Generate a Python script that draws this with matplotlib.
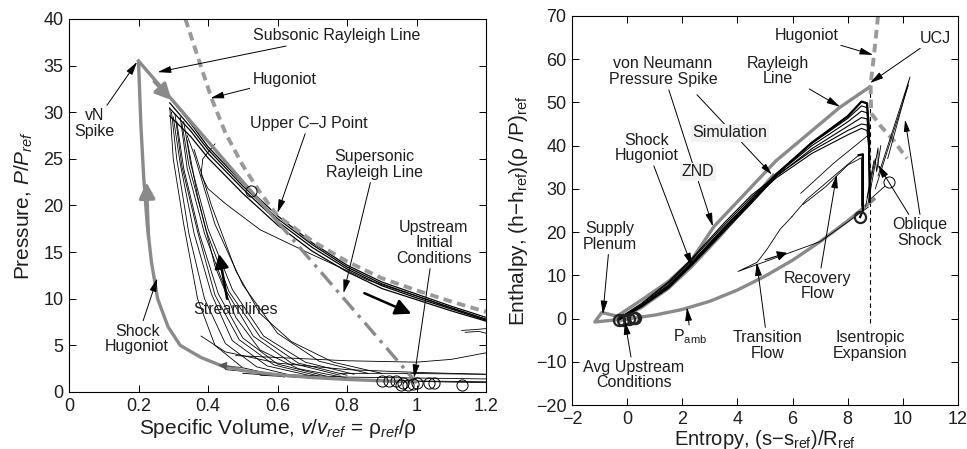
import matplotlib
matplotlib.use("Agg")
import matplotlib.pyplot as plt

plt.rcParams['font.family'] = ['Liberation Sans', 'DejaVu Sans']
plt.rcParams['mathtext.fontset'] = 'custom'
plt.rcParams['mathtext.rm'] = 'Liberation Sans'
plt.rcParams['mathtext.it'] = 'Liberation Sans:italic'
plt.rcParams['mathtext.bf'] = 'Liberation Sans:bold'

TXT = '#1e1e1e'
GRAY = '#8a8a8a'

# ===== P-v plane data =====
shock_hug_v = [1.0, 0.9, 0.8, 0.7, 0.6, 0.5, 0.44, 0.38, 0.32, 0.285, 0.255, 0.237, 0.225, 0.215, 0.207, 0.2]
shock_hug_p = [1.1, 1.2, 1.35, 1.55, 1.85, 2.3, 2.8, 3.7, 5.0, 7.0, 10.0, 14.0, 18.0, 23.0, 28.5, 35.5]

vn_point = (0.2, 35.5)
cj_point = (0.6, 18.25)
upstream_point = (1.0, 1.0)

det_hug_v = [0.335, 0.37, 0.41, 0.45, 0.5, 0.55, 0.6, 0.7, 0.8, 0.9, 1.0, 1.1, 1.2]
det_hug_p = [40.0, 36.0, 31.5, 27.8, 24.3, 21.4, 18.9, 16.2, 14.0, 12.2, 10.9, 9.7, 8.6]

# streamline bundle along the Hugoniot
band_v = [0.29, 0.35, 0.4, 0.5, 0.6, 0.7, 0.8, 0.9, 1.0, 1.1, 1.2]
band_p = [
    [31.6, 28.8, 26.3, 22.4, 18.9, 16.0, 13.6, 11.8, 10.5, 9.2, 8.0],
    [31.0, 28.4, 26.0, 22.1, 18.6, 15.8, 13.4, 11.6, 10.3, 9.0, 7.8],
    [30.4, 28.0, 25.6, 21.8, 18.3, 15.5, 13.2, 11.4, 10.1, 8.9, 7.7],
    [29.6, 27.4, 25.1, 21.3, 17.9, 15.1, 12.9, 11.1, 9.9, 8.7, 7.6],
]

# compression legs of the streamlines
wedge_v = [
    [0.62, 0.5, 0.42, 0.37, 0.33, 0.30, 0.29],
    [0.66, 0.54, 0.45, 0.39, 0.345, 0.31, 0.295],
    [0.7, 0.57, 0.47, 0.41, 0.36, 0.32, 0.30],
    [0.72, 0.59, 0.49, 0.42, 0.37, 0.325, 0.305],
    [0.74, 0.6, 0.5, 0.43, 0.375, 0.33, 0.31],
    [0.78, 0.64, 0.53, 0.45, 0.39, 0.34, 0.32],
    [0.8, 0.66, 0.55, 0.46, 0.395, 0.345, 0.325],
    [0.82, 0.68, 0.56, 0.47, 0.40, 0.35, 0.33],
    [0.86, 0.72, 0.6, 0.5, 0.42, 0.36, 0.34],
    [0.8, 0.66, 0.55, 0.48, 0.42, 0.37, 0.34],
    [0.9, 0.76, 0.64, 0.55, 0.48, 0.41, 0.36],
]
wedge_p = [
    [1.6, 2.6, 5.0, 10.0, 18.0, 25.0, 30.5],
    [1.6, 2.7, 5.2, 10.0, 17.0, 25.0, 30.0],
    [1.7, 2.8, 5.5, 10.5, 17.0, 24.5, 29.5],
    [1.7, 2.9, 5.6, 10.4, 17.2, 24.2, 29.8],
    [1.7, 3.0, 5.8, 10.5, 17.0, 24.0, 29.0],
    [1.8, 3.1, 6.0, 11.0, 17.0, 24.0, 29.5],
    [1.8, 3.1, 5.9, 10.8, 17.3, 24.3, 28.8],
    [1.9, 3.2, 6.0, 11.0, 17.5, 24.5, 29.0],
    [2.0, 3.3, 6.3, 11.5, 18.0, 25.5, 27.5],
    [1.5, 2.5, 4.5, 8.0, 13.5, 21.0, 27.0],
    [2.0, 3.2, 5.4, 8.4, 13.0, 20.0, 26.0],
]

# low pressure legs
low_v = [
    [0.38, 0.45, 0.6, 0.8, 1.0, 1.2],
    [0.48, 0.6, 0.8, 1.0, 1.1, 1.2],
    [0.45, 0.6, 0.8, 1.0, 1.2],
    [0.5, 0.7, 0.9, 1.05, 1.2],
    [0.55, 0.75, 0.95, 1.2],
    [0.78, 0.95, 1.2],
    [1.13, 1.17, 1.2],
    [1.14, 1.18, 1.2],
]
low_p = [
    [6.0, 4.3, 3.1, 2.4, 2.1, 1.9],
    [3.9, 3.7, 3.35, 3.2, 3.5, 4.2],
    [2.4, 1.9, 1.6, 1.5, 1.4],
    [2.0, 1.5, 1.25, 1.1, 1.0],
    [1.8, 1.4, 1.2, 1.1],
    [2.0, 2.0, 1.9],
    [6.6, 6.7, 6.8],
    [6.4, 6.5, 6.3],
]

# streamline that drops below the bundle
stray_v = [0.42, 0.385, 0.38, 0.40, 0.45, 0.55, 0.69, 0.86, 1.0, 1.2]
stray_p = [26.6, 25.0, 23.3, 21.8, 20.2, 17.4, 14.9, 12.0, 10.3, 7.8]

# inflow probe points
probe_v = [0.9, 0.92, 0.94, 0.955, 0.96, 0.975, 0.99, 1.0, 1.035, 1.05, 1.13, 0.525]
probe_p = [1.2, 1.2, 1.2, 0.8, 1.0, 0.8, 0.9, 1.0, 1.0, 1.0, 0.7, 21.6]

# ===== h-s plane data =====
pamb_s = [-0.3, 0.0, 1.0, 2.0, 3.0, 4.0, 5.0, 6.0, 7.0, 8.0, 8.95]
pamb_h = [-0.6, -0.1, 0.8, 2.1, 4.0, 6.6, 9.8, 13.5, 17.8, 22.6, 27.6]

plenum_s = [-0.4, -1.17, -0.92, -0.4]
plenum_h = [-0.3, -0.8, 1.4, 0.6]

znd_s = [-0.4, 0.5, 1.5, 2.3, 3.15, 5.4, 7.7, 8.8]
znd_h = [0.4, 4.2, 8.6, 13.2, 21.3, 36.5, 48.8, 53.6]

hs_shock_s = [-0.3, 0.5, 1.5, 2.35, 3.3, 4.3, 5.3]
hs_shock_h = [-0.1, 2.5, 7.0, 12.1, 18.6, 25.8, 33.2]

hs_hug_s = [9.1, 8.97, 8.83, 8.85, 9.2, 9.64, 10.15]
hs_hug_h = [70.0, 62.0, 54.0, 47.5, 44.5, 41.4, 37.0]

sim_s = [-0.3, 0.5, 1.5, 2.3, 3.5, 4.5, 5.4, 6.7, 8.0, 8.5, 8.7, 8.77, 8.8]
sim_h = [
    [-0.2, 2.8, 7.4, 12.3, 20.5, 27.0, 33.3, 40.7, 46.8, 50.2, 49.8, 44.0, 27.0],
    [-0.1, 3.0, 7.8, 12.8, 21.0, 27.5, 33.5, 40.5, 46.3, 49.2, 48.8, 43.0, 28.0],
    [0.0, 3.2, 8.2, 13.3, 21.5, 28.0, 33.2, 40.0, 45.5, 48.0, 47.6, 42.0, 29.0],
    [-0.3, 2.6, 7.0, 12.0, 20.0, 26.6, 32.8, 39.3, 44.5, 46.5, 46.2, 41.0, 30.0],
    [0.1, 3.4, 8.5, 13.6, 22.0, 28.5, 33.0, 38.8, 43.5, 45.0, 44.8, 40.0, 31.0],
    [-0.2, 2.9, 7.6, 12.5, 20.8, 27.3, 32.5, 38.2, 42.5, 44.0, 43.5, 39.0, 32.0],
]

# transition / recovery / expansion traces
trace_s = [
    [8.75, 7.97, 7.0, 5.54, 4.02, 4.71, 5.07, 5.54, 5.98],
    [5.98, 6.5, 7.6, 8.4, 8.55, 8.55, 8.45],
    [6.38, 7.2, 8.0, 8.5, 8.5],
    [6.3, 7.5, 8.7],
    [8.65, 9.0, 9.05, 9.2],
    [8.75, 9.1, 9.1],
    [8.7, 8.95],
    [8.8, 9.5],
    [9.1, 10.26, 9.45],
    [9.0, 10.2],
]
trace_h = [
    [25.8, 22.2, 17.8, 14.4, 10.9, 13.0, 16.0, 20.6, 23.6],
    [23.6, 27.5, 33.5, 37.8, 38.0, 25.0, 23.5],
    [26.4, 30.5, 35.5, 37.2, 26.0],
    [29.0, 36.0, 42.2],
    [26.0, 37.0, 34.0, 40.0],
    [27.0, 39.5, 35.0],
    [28.0, 36.5],
    [27.5, 31.5],
    [33.0, 55.9, 37.0],
    [30.0, 54.0],
]

avg_s = [-0.3, -0.15, 0.05, 0.2, 0.3, 8.45]
avg_h = [-0.4, -0.3, 0.0, 0.2, 0.1, 23.6]
oblique_pt = (9.5, 31.5)

isen_s = 8.8
isen_h = [-1.0, 53.6]


def arrow(ax, text, xytext, xy, **kw):
    ax.annotate(text, xy=xy, xytext=xytext, fontsize=11.5, color=TXT,
                ha='center', va='center', linespacing=1.05,
                arrowprops=dict(arrowstyle='-|>,head_length=0.7,head_width=0.18',
                                color='k', lw=0.7, shrinkA=0, shrinkB=0), **kw)


def flow_arrow(ax, start, end, color, lw, size):
    ax.annotate('', xy=end, xytext=start,
                arrowprops=dict(arrowstyle='-|>,head_length=0.6,head_width=0.3',
                                color=color, lw=lw, mutation_scale=size,
                                shrinkA=0, shrinkB=0))


def style_axes(ax):
    ax.tick_params(direction='in', top=True, right=True, length=5, width=0.7,
                   labelsize=13, colors='k', labelcolor=TXT, pad=4)
    for sp in ax.spines.values():
        sp.set_linewidth(0.8)


fig = plt.figure(figsize=(9.67, 4.49), dpi=100)

# ===== left: pressure vs specific volume =====
ax1 = fig.add_axes([69 / 967, 57 / 449, 417 / 967, 373 / 449])

for pp in band_p:
    ax1.plot(band_v, pp, color='k', lw=0.9)
for vv, pp in zip(wedge_v, wedge_p):
    ax1.plot(vv, pp, color='k', lw=0.6)
for vv, pp in zip(low_v, low_p):
    ax1.plot(vv, pp, color='k', lw=0.6)
ax1.plot(stray_v, stray_p, color='k', lw=0.6)

ax1.plot(shock_hug_v, shock_hug_p, color=GRAY, lw=2.4, solid_capstyle='round')
ax1.plot([vn_point[0], cj_point[0]], [vn_point[1], cj_point[1]], color=GRAY, lw=2.4)
ax1.plot([cj_point[0], upstream_point[0]], [cj_point[1], upstream_point[1]],
         color=GRAY, lw=2.4, ls=(0, (5, 2, 1, 2)))
ax1.plot(det_hug_v, det_hug_p, color='#9a9a9a', lw=2.8, ls=(0, (2.2, 1.4)))

ax1.plot(probe_v[:-1], probe_p[:-1], 'o', mfc='none', mec='k', ms=8, mew=0.7)
ax1.plot(probe_v[-1:], probe_p[-1:], 'o', mfc='none', mec='k', ms=8, mew=0.7)

flow_arrow(ax1, (0.229, 16.5), (0.223, 22.5), GRAY, 2.4, 16)
flow_arrow(ax1, (0.245, 33.3), (0.295, 31.3), GRAY, 2.4, 16)
flow_arrow(ax1, (0.85, 10.6), (0.985, 8.4), 'k', 1.8, 16)
flow_arrow(ax1, (0.455, 10.0), (0.432, 14.8), 'k', 1.8, 14)
flow_arrow(ax1, (0.5, 2.6), (0.43, 2.9), '#555555', 0.8, 8)

arrow(ax1, 'Subsonic Rayleigh Line', (0.77, 38.2), (0.255, 34.3))
arrow(ax1, 'Hugoniot', (0.62, 33.5), (0.407, 31.5))
arrow(ax1, 'vN\nSpike', (0.073, 28.8), (0.196, 35.4))
arrow(ax1, 'Upper C\u2013J Point', (0.69, 28.8), (0.6, 19.2))
arrow(ax1, 'Supersonic\nRayleigh Line', (0.88, 24.4), (0.79, 10.6))
arrow(ax1, 'Upstream\nInitial\nConditions', (1.05, 16.0), (0.993, 1.5))
arrow(ax1, 'Shock\nHugoniot', (0.196, 5.7), (0.254, 12.2))
ax1.text(0.48, 8.9, 'Streamlines', fontsize=11.5, color=TXT, ha='center', va='center')

ax1.set_xlim(0, 1.2)
ax1.set_ylim(0, 40)
ax1.set_xticks([0, 0.2, 0.4, 0.6, 0.8, 1.0, 1.2])
ax1.set_xticklabels(['0', '0.2', '0.4', '0.6', '0.8', '1', '1.2'])
ax1.set_yticks(range(0, 41, 5))
ax1.set_xlabel('Specific Volume, $v/v_{ref}$ = \u03c1$_{ref}$/\u03c1', fontsize=15, color=TXT, labelpad=2)
ax1.set_ylabel('Pressure, $P/P_{ref}$', fontsize=15, color=TXT, labelpad=6)
style_axes(ax1)

# ===== right: enthalpy vs entropy =====
ax2 = fig.add_axes([572 / 967, 44 / 449, 386 / 967, 389 / 449])

ax2.plot([isen_s, isen_s], isen_h, color='k', lw=0.8, ls=(0, (4, 3)))
ax2.plot(pamb_s, pamb_h, color=GRAY, lw=2.4)
ax2.plot(plenum_s, plenum_h, color=GRAY, lw=2.4)
ax2.plot(znd_s, znd_h, color=GRAY, lw=2.4)
ax2.plot(hs_shock_s, hs_shock_h, color=GRAY, lw=2.4)
ax2.plot(hs_hug_s, hs_hug_h, color='#9a9a9a', lw=2.8, ls=(0, (2.2, 1.4)))
for hh in sim_h:
    ax2.plot(sim_s, hh, color='k', lw=0.8)
ax2.plot(sim_s, sim_h[0], color='k', lw=1.6)
for ss, hh in zip(trace_s, trace_h):
    ax2.plot(ss, hh, color='k', lw=0.6)
ax2.plot(trace_s[1][3:], trace_h[1][3:], color='k', lw=1.6)
ax2.plot(avg_s, avg_h, 'o', mfc='none', mec='#222222', ms=8, mew=1.6)
ax2.plot([oblique_pt[0]], [oblique_pt[1]], 'o', mfc='white', mec='k', ms=8, mew=0.7)
flow_arrow(ax2, (5.0, 13.6), (5.8, 15.2), 'k', 0.8, 10)

arrow(ax2, 'von Neumann\nPressure Spike', (1.30, 57.1), (3.11, 21.3))
ax2.annotate('', xy=(5.25, 33.3), xytext=(2.53, 51.8),
             arrowprops=dict(arrowstyle='-|>,head_length=0.7,head_width=0.18',
                             color='k', lw=0.7, shrinkA=0, shrinkB=0))
ax2.text(2.57, 34.0, 'ZND', fontsize=11.5, color=TXT, ha='center', va='center',
         bbox=dict(boxstyle='square,pad=0.1', fc='#f2f2f2', ec='none'))
ax2.text(3.73, 43.0, 'Simulation', fontsize=11.5, color=TXT, ha='center', va='center',
         bbox=dict(boxstyle='square,pad=0.1', fc='#f2f2f2', ec='none'))
arrow(ax2, 'Shock\nHugoniot', (0.72, 39.5), (2.35, 12.1))
arrow(ax2, 'Rayleigh\nLine', (5.47, 57.3), (7.72, 49.0))
arrow(ax2, 'Hugoniot', (6.5, 65.6), (8.92, 61.0))
arrow(ax2, 'UCJ', (11.17, 64.9), (8.81, 54.5))
arrow(ax2, 'Supply\nPlenum', (-0.62, 19.0), (-0.88, 1.0))
arrow(ax2, 'P$_{\\mathrm{amb}}$', (2.3, -4.3), (2.17, 2.6))
arrow(ax2, 'Avg Upstream\nConditions', (0.25, -13.1), (-0.08, -0.6))
arrow(ax2, 'Transition\nFlow', (5.1, -6.2), (4.7, 13.0))
arrow(ax2, 'Recovery\nFlow', (6.92, 7.5), (7.6, 33.3))
ax2.text(8.8, -6.2, 'Isentropic\nExpansion', fontsize=11.5, color=TXT,
         ha='center', va='center', linespacing=1.05,
         bbox=dict(boxstyle='square,pad=0.05', fc='white', ec='none'))
arrow(ax2, 'Oblique\nShock', (10.62, 19.9), (9.1, 35.6))
ax2.annotate('', xy=(10.08, 46.0), xytext=(10.62, 24.1),
             arrowprops=dict(arrowstyle='-|>,head_length=0.7,head_width=0.18',
                             color='k', lw=0.7, shrinkA=0, shrinkB=0))

ax2.set_xlim(-2, 12)
ax2.set_ylim(-20, 70)
ax2.set_xticks(range(-2, 13, 2))
ax2.set_yticks(range(-20, 71, 10))
ax2.set_xticklabels(['\u22122'] + [str(v) for v in range(0, 13, 2)])
ax2.set_yticklabels(['\u221220', '\u221210'] + [str(v) for v in range(0, 71, 10)])
ax2.set_xlabel('Entropy, (s\u2212s$_{\\mathrm{ref}}$)/R$_{\\mathrm{ref}}$', fontsize=14.5, color=TXT, labelpad=0)
ax2.set_ylabel('Enthalpy, (h\u2212h$_{\\mathrm{ref}}$)(\u03c1 /P)$_{\\mathrm{ref}}$', fontsize=15, color=TXT, labelpad=4)
style_axes(ax2)

fig.savefig('out.png', dpi=100)
